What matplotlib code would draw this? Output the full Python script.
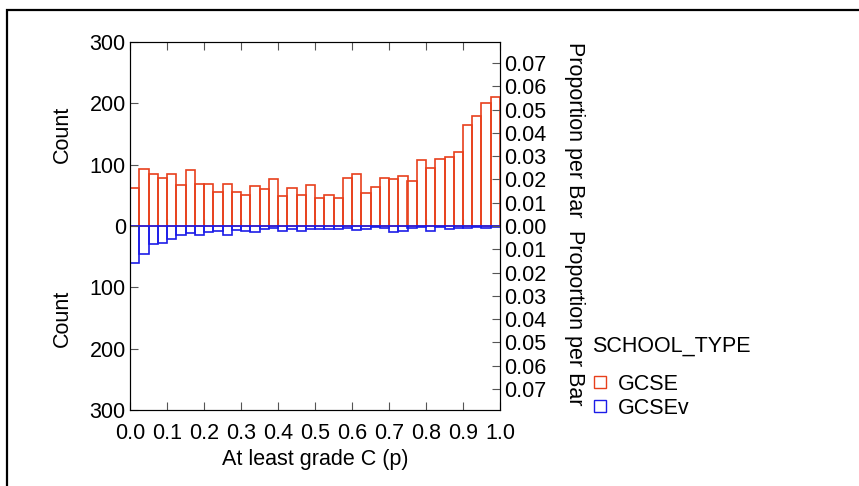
import numpy as np
import matplotlib.pyplot as plt
from matplotlib.lines import Line2D
from matplotlib.patches import Rectangle

plt.rcParams['font.family'] = ['Liberation Sans', 'DejaVu Sans']

# 40 bins of width 0.025 over [0, 1]
bin_edges = np.linspace(0.0, 1.0, 41)
gcse = [62, 93, 84, 79, 85, 67, 92, 68, 68, 56,
        69, 55, 51, 66, 61, 77, 49, 62, 50, 67,
        46, 51, 46, 78, 85, 54, 63, 78, 77, 81,
        74, 108, 95, 109, 113, 120, 164, 180, 200, 210]
gcsev = [61, 46, 30, 27, 21, 14, 11, 15, 9, 8,
         14, 6, 8, 9, 5, 4, 8, 5, 8, 5,
         5, 5, 5, 4, 7, 5, 2, 3, 10, 8,
         3, 2, 8, 2, 5, 3, 3, 1, 4, 2]
groups = ['GCSE', 'GCSEv']
colors = ['#e8401c', '#1c1ce8']
count_ticks = [-300, -200, -100, 0, 100, 200, 300]
prop_ticks = np.round(np.arange(-0.07, 0.0701, 0.01), 2)
xticks = np.round(np.arange(0, 1.01, 0.1), 1)

n_total = sum(gcse) + sum(gcsev)
fs = 15.5

fig = plt.figure(figsize=(8.59, 4.86), dpi=100)
ax = fig.add_axes([130 / 859, 1 - 410 / 486, 370 / 859, 368 / 486])

ax.bar(bin_edges[:-1], gcse, width=0.025, align='edge', fill=False,
       edgecolor=colors[0], linewidth=1.2)
ax.bar(bin_edges[:-1], -np.array(gcsev), width=0.025, align='edge', fill=False,
       edgecolor=colors[1], linewidth=1.2)

ax.set_xlim(0, 1)
ax.set_ylim(-300, 300)
ax.set_yticks(count_ticks)
ax.set_yticklabels([str(abs(t)) for t in count_ticks])
ax.set_xticks(xticks)
ax.set_xticklabels([f'{t:.1f}' for t in xticks])
ax.tick_params(direction='in', length=6, labelsize=fs, top=True, width=0.8,
               color='#555555')
ax.tick_params(axis='x', pad=9)
ax.tick_params(axis='y', pad=3)
ax.set_xlabel('At least grade C (p)', fontsize=fs, labelpad=4)
for sp in ax.spines.values():
    sp.set_color('#333333')

# ticks along the zero line
zx = ax.secondary_xaxis(0.5)
zx.set_xticks(xticks[1:-1])
zx.set_xticklabels([])
zx.tick_params(direction='out', length=5, color='#888888')
zx.spines['bottom'].set_visible(False)
zx.spines['top'].set_visible(False)

ax2 = ax.twinx()
ax2.set_ylim(-300 / n_total, 300 / n_total)
ax2.set_yticks(prop_ticks)
ax2.set_yticklabels([f'{abs(t):.2f}' for t in prop_ticks])
ax2.tick_params(direction='in', length=6, labelsize=fs, width=0.8, color='#555555',
                pad=3)

fig.text(62 / 859, 1 - 134 / 486, 'Count', rotation=90, ha='center', va='center', fontsize=fs)
fig.text(62 / 859, 1 - 318 / 486, 'Count', rotation=90, ha='center', va='center', fontsize=fs)
fig.text(574 / 859, 1 - 130 / 486, 'Proportion per Bar', rotation=270,
         ha='center', va='center', fontsize=fs)
fig.text(574 / 859, 1 - 318 / 486, 'Proportion per Bar', rotation=270,
         ha='center', va='center', fontsize=fs)

handles = [Line2D([], [], marker='s', linestyle='none', markerfacecolor='none',
                  markeredgecolor=c, markersize=9, markeredgewidth=1.0) for c in colors]
leg = fig.legend(handles, groups, title='SCHOOL_TYPE', loc='upper left',
                 bbox_to_anchor=(592 / 859, 1 - 336 / 486), frameon=False,
                 fontsize=fs, title_fontsize=fs, alignment='left',
                 handlelength=0.7, handletextpad=0.5, labelspacing=0.15,
                 borderpad=0, borderaxespad=0)
leg._legend_box.sep = 12

fig.patches.append(Rectangle((7 / 859, -0.1), 1.2, 1.1 - 10 / 486,
                             transform=fig.transFigure, fill=False,
                             edgecolor='black', linewidth=1.6))

fig.savefig('out.png', dpi=100)
